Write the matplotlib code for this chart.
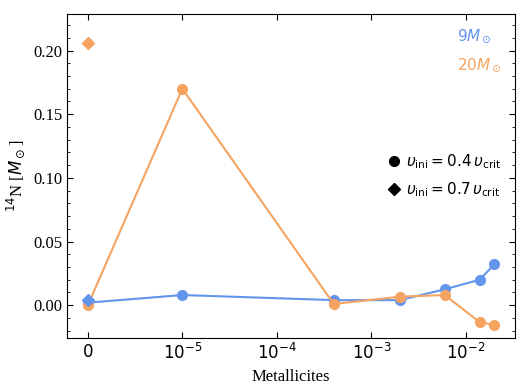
import numpy as np
import matplotlib
matplotlib.use('Agg')
import matplotlib.pyplot as plt
from matplotlib.lines import Line2D

plt.rcParams['font.size'] = 12
serif = ['Liberation Serif', 'DejaVu Serif']

# metallicities
Z = [0, 1e-5, 4e-4, 2e-3, 6e-3, 0.014, 0.02]
# 14N yields, v_ini = 0.4 v_crit
n14_9 = [0.002, 0.008, 0.004, 0.004, 0.0125, 0.020, 0.032]
n14_20 = [0.000, 0.170, 0.001, 0.0067, 0.008, -0.0133, -0.0155]
# v_ini = 0.7 v_crit at Z = 0
Z_fast = [0]
n14_9_fast = [0.004]
n14_20_fast = [0.206]

c9 = 'cornflowerblue'
c20 = 'sandybrown'

fig, ax = plt.subplots(figsize=(5.28, 3.88), dpi=100)
plt.subplots_adjust(left=0.127, right=0.975, top=0.965, bottom=0.128)

ax.plot(Z, n14_9, 'o-', color=c9, ms=7, lw=1.5)
ax.plot(Z, n14_20, 'o-', color=c20, ms=7, lw=1.5)
ax.plot(Z_fast, n14_9_fast, 'D', color=c9, ms=6.5)
ax.plot(Z_fast, n14_20_fast, 'D', color=c20, ms=6.5)

ax.set_xscale('symlog', linthresh=1e-5, linscale=0.9)
ax.set_xlim(-2.2e-6, 0.033)
ax.set_ylim(-0.026, 0.229)
ax.minorticks_on()
ax.yaxis.set_minor_locator(matplotlib.ticker.MultipleLocator(0.01))
ax.tick_params(which='both', direction='in', top=True, right=True)
ax.tick_params(which='major', length=4.5)
ax.tick_params(which='minor', length=2.5)
for lab in ax.get_yticklabels():
    lab.set_family(serif)

ax.set_xlabel('Metallicites', family=serif)
ax.set_ylabel(r'$^{14}$N [$M_\odot$]', family=serif)

mass_handles = [Line2D([], [], linestyle='none', marker=None) for _ in range(2)]
leg1 = ax.legend(mass_handles, [r'$9M_\odot$', r'$20M_\odot$'], loc='upper right',
                 frameon=False, handlelength=0, handletextpad=0, fontsize=11,
                 labelspacing=0.7, labelcolor=[c9, c20])
ax.add_artist(leg1)

rot_handles = [Line2D([], [], linestyle='none', marker='o', color='k', ms=7),
               Line2D([], [], linestyle='none', marker='D', color='k', ms=6.5)]
ax.legend(rot_handles, [r'$\upsilon_{\rm ini} = 0.4\,\upsilon_{\rm crit}$',
                        r'$\upsilon_{\rm ini} = 0.7\,\upsilon_{\rm crit}$'],
          loc='center right', frameon=False, fontsize=11,
          handlelength=0.8, handletextpad=0.35, labelspacing=0.6)

plt.savefig('out.png', dpi=100)
